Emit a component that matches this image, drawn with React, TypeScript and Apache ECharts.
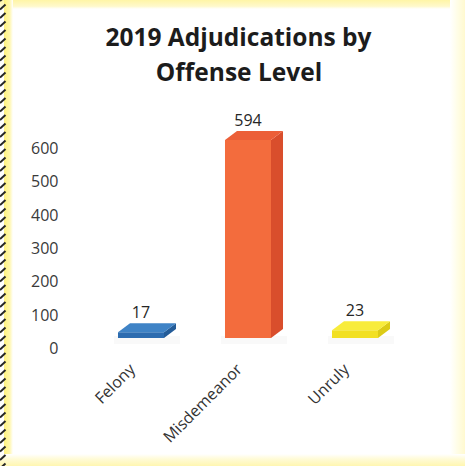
import React, { useEffect, useRef } from "react";
import * as echarts from "echarts";

const categories = ["Felony", "Misdemeanor", "Unruly"];
const values = [17, 594, 23];
const yMin = 0;
const yMax = 600;
const yStep = 100;
const titleLines = ["2019 Adjudications by", "Offense Level"];

const palettes = [
  { front: "#2D6CB0", top: "#3F83C6", side: "#245C98" },
  { front: "#F36C3D", top: "#EC5F38", side: "#D94E2C" },
  { front: "#F2E023", top: "#F8EC3C", side: "#DCCB16" },
];

const FONT = "'Open Sans', 'DejaVu Sans', sans-serif";

export default function App() {
  const ref = useRef<HTMLDivElement>(null);

  useEffect(() => {
    if (!ref.current) return;
    const chart = echarts.init(ref.current, null, { renderer: "svg" });

    const hatch: any[] = [];
    for (let y = -4; y < 470; y += 8.5) {
      hatch.push({
        type: "line",
        silent: true,
        shape: { x1: 0, y1: y + 5, x2: 5.5, y2: y },
        style: { stroke: "#262626", lineWidth: 2 },
      });
    }

    const option: any = {
      animation: false,
      backgroundColor: "#ffffff",
      textStyle: { fontFamily: FONT },
      grid: {
        left: 87.5,
        right: 56.5,
        top: 148,
        bottom: 118,
        outerBoundsMode: "none",
        containLabel: false,
      },
      xAxis: {
        type: "category",
        data: categories,
        axisLine: { show: false },
        axisTick: { show: false },
        splitLine: { show: false },
        axisLabel: {
          rotate: 45,
          margin: 9,
          interval: 0,
          padding: [0, 13, 0, 0],
          color: "#333333",
          fontSize: 16,
          fontFamily: FONT,
        },
      },
      yAxis: {
        type: "value",
        min: yMin,
        max: yMax,
        interval: yStep,
        axisLine: { show: false },
        axisTick: { show: false },
        splitLine: { show: false },
        axisLabel: {
          margin: 29,
          color: "#3a3a3a",
          fontSize: 16,
          fontFamily: FONT,
        },
      },
      series: [
        {
          type: "custom",
          data: values.map((v, i) => [i, v]),
          encode: { x: 0, y: 1 },
          renderItem: (params: any, api: any) => {
            const idx = api.value(0);
            const v = api.value(1);
            const base = api.coord([idx, 0]);
            const top = api.coord([idx, v]);
            const band = api.size([1, 0])[0];
            const w = band * 0.43;
            const lift = 10;
            const dx = 12;
            const dy = -9;
            const x0 = base[0] - w / 2;
            const x1 = base[0] + w / 2;
            const yb = base[1] - lift;
            const yt = top[1] - lift;
            const p = palettes[idx % palettes.length];
            return {
              type: "group",
              children: [
                {
                  type: "rect",
                  shape: { x: x0 - 4, y: yb - 2, width: w + dx + 8, height: 8 },
                  style: { fill: "rgba(0,0,0,0.025)" },
                },
                {
                  type: "polygon",
                  shape: {
                    points: [
                      [x1, yt],
                      [x1 + dx, yt + dy],
                      [x1 + dx, yb + dy],
                      [x1, yb],
                    ],
                  },
                  style: { fill: p.side },
                },
                {
                  type: "rect",
                  shape: { x: x0, y: yt, width: w, height: yb - yt },
                  style: { fill: p.front },
                },
                {
                  type: "polygon",
                  shape: {
                    points: [
                      [x0, yt],
                      [x0 + dx, yt + dy],
                      [x1 + dx, yt + dy],
                      [x1, yt],
                    ],
                  },
                  style: { fill: p.top },
                },
                {
                  type: "text",
                  style: {
                    text: String(v),
                    x: base[0],
                    y: yt + dy - 11,
                    align: "center",
                    verticalAlign: "middle",
                    fill: "#262626",
                    fontSize: 16,
                    fontFamily: FONT,
                  },
                },
              ],
            };
          },
        },
      ],
      graphic: [
        {
          type: "rect",
          silent: true,
          z: -10,
          shape: { x: 0, y: 0, width: 465, height: 9 },
          style: {
            fill: new echarts.graphic.LinearGradient(0, 0, 0, 1, [
              { offset: 0, color: "#FFF5A6" },
              { offset: 0.7, color: "#FFF9CC" },
              { offset: 1, color: "#FFFFFF" },
            ]),
          },
        },
        {
          type: "rect",
          silent: true,
          z: -10,
          shape: { x: 4, y: 0, width: 9, height: 466 },
          style: {
            fill: new echarts.graphic.LinearGradient(0, 0, 1, 0, [
              { offset: 0, color: "#FFF27F" },
              { offset: 0.6, color: "#FFF6A8" },
              { offset: 1, color: "#FFFFFF" },
            ]),
          },
        },
        {
          type: "rect",
          silent: true,
          z: -10,
          shape: { x: 450, y: 0, width: 15, height: 466 },
          style: {
            fill: new echarts.graphic.LinearGradient(0, 0, 1, 0, [
              { offset: 0, color: "#FFFFFF" },
              { offset: 0.5, color: "#FFFDE6" },
              { offset: 1, color: "#FFF9CF" },
            ]),
          },
        },
        {
          type: "rect",
          silent: true,
          z: -10,
          shape: { x: 0, y: 454, width: 465, height: 12 },
          style: {
            fill: new echarts.graphic.LinearGradient(0, 0, 0, 1, [
              { offset: 0, color: "#FFFFFF" },
              { offset: 0.4, color: "#FFFBD8" },
              { offset: 1, color: "#FFF6B0" },
            ]),
          },
        },
        ...hatch,
        {
          type: "text",
          silent: true,
          style: {
            text: titleLines[0],
            x: 238.5,
            y: 36,
            align: "center",
            verticalAlign: "middle",
            fill: "#1c1c1c",
            fontSize: 24.5,
            fontWeight: "bold",
            fontFamily: FONT,
          },
        },
        {
          type: "text",
          silent: true,
          style: {
            text: titleLines[1],
            x: 239,
            y: 71,
            align: "center",
            verticalAlign: "middle",
            fill: "#1c1c1c",
            fontSize: 24.5,
            fontWeight: "bold",
            fontFamily: FONT,
          },
        },
      ],
    };

    chart.setOption(option);
    return () => chart.dispose();
  }, []);

  return (
    <div
      ref={ref}
      style={{ position: "absolute", left: 0, top: 0, width: 465, height: 466 }}
    />
  );
}
